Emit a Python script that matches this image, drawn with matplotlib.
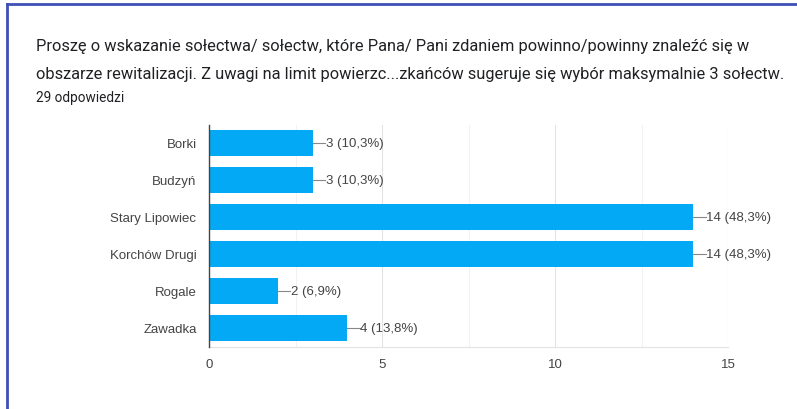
import matplotlib.pyplot as plt
from matplotlib.lines import Line2D

plt.rcParams["font.family"] = ["Roboto", "DejaVu Sans"]

categories = ["Borki", "Budzyń", "Stary Lipowiec", "Korchów Drugi", "Rogale", "Zawadka"]
counts = [3, 3, 14, 14, 2, 4]
percents = ["10,3%", "10,3%", "48,3%", "48,3%", "6,9%", "13,8%"]
x_ticks = [0, 5, 10, 15]
x_minor = [2.5, 7.5, 12.5]

title_lines = [
    "Proszę o wskazanie sołectwa/ sołectw, które Pana/ Pani zdaniem powinno/powinny znaleźć się w",
    "obszarze rewitalizacji. Z uwagi na limit powierzc...zkańców sugeruje się wybór maksymalnie 3 sołectw.",
]
subtitle = "29 odpowiedzi"

label_font = ["Liberation Sans", "DejaVu Sans"]

fig = plt.figure(figsize=(7.97, 4.10), dpi=100)

# ramka (lewa i górna krawędź)
fig.add_artist(Line2D([0.009, 0.009], [0, 0.988], color="#3F51B5", lw=2))
fig.add_artist(Line2D([0.009, 1.0], [0.988, 0.988], color="#3F51B5", lw=2))

fig.text(36 / 797, 1 - 47 / 410, title_lines[0], fontsize=11.8, color="#202124", va="center")
fig.text(36 / 797, 1 - 75 / 410, title_lines[1], fontsize=11.8, color="#202124", va="center")
fig.text(36 / 797, 1 - 98 / 410, subtitle, fontsize=9.8, color="#202124", va="center")

ax = fig.add_axes([209 / 797, 1 - 347.5 / 410, 519 / 797, 222 / 410])

y = list(range(len(categories)))
bars = ax.barh(y, counts, height=0.68, color="#03A9F4", zorder=3)

# etykiety z krótką kreską prowadzącą
for bar, c, p in zip(bars, counts, percents):
    yc = bar.get_y() + bar.get_height() / 2
    ax.plot([c, c + 0.35], [yc, yc], color="#888888", lw=0.8, zorder=3, clip_on=False)
    ax.text(c + 0.37, yc, f"{c} ({p})", va="center", ha="left", fontsize=9.5,
            color="#444444", family=label_font)

ax.set_xlim(0, 15)
ax.set_ylim(len(categories) - 0.5, -0.5)
ax.set_xticks(x_ticks)
ax.set_xticks(x_minor, minor=True)
ax.set_yticks(y)
ax.set_yticklabels(categories)
for lbl in ax.get_xticklabels() + ax.get_yticklabels():
    lbl.set_family(label_font)
ax.tick_params(axis="both", which="both", length=0, labelsize=9.5, labelcolor="#444444")
ax.tick_params(axis="y", pad=9)
ax.tick_params(axis="x", pad=8)

ax.grid(axis="x", which="major", color="#E3E3E3", lw=0.8, zorder=0)
ax.grid(axis="x", which="minor", color="#F2F2F2", lw=0.8, zorder=0)
for s in ["top", "right"]:
    ax.spines[s].set_visible(False)
ax.spines["bottom"].set_color("#E3E3E3")
ax.spines["left"].set_color("#444444")
ax.spines["left"].set_linewidth(1)
ax.spines["left"].set_zorder(4)

fig.savefig("out.png", dpi=100)
